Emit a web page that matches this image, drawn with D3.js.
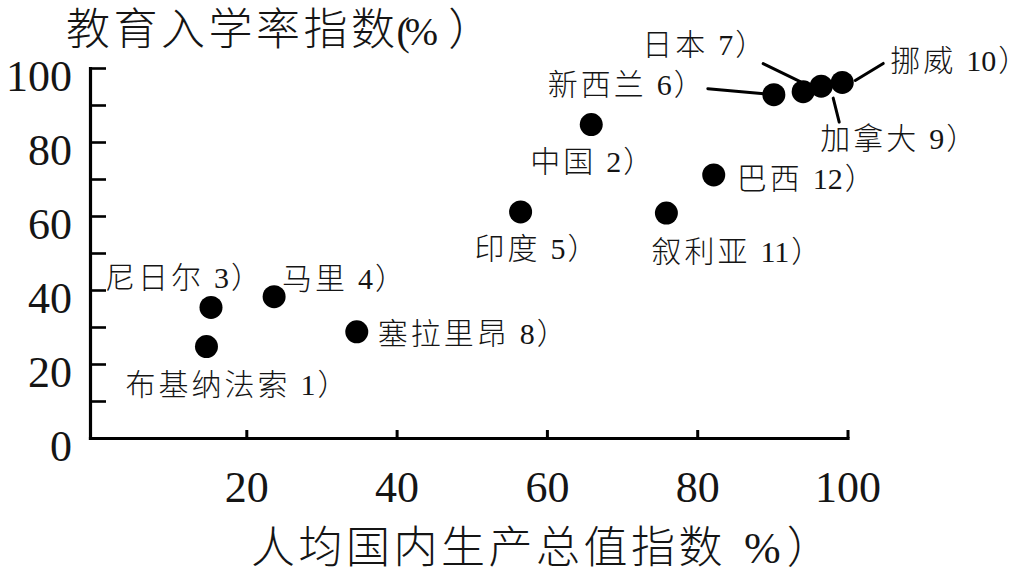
<!DOCTYPE html>
<html><head><meta charset="utf-8">
<script src="https://cdn.jsdelivr.net/npm/d3@7"></script>
<style>body{margin:0;background:#fff}svg{display:block}</style>
</head><body>
<svg id="chart" width="1030" height="579"></svg>
<script>
// ---- data ----
const countries = ["布基纳法索","中国","尼日尔","马里","印度","新西兰","日本","塞拉里昂","加拿大","挪威","叙利亚","巴西"];
const countryNumbers = [1,2,3,4,5,6,7,8,9,10,11,12];
const gdpIndex = [14.7,65.9,15.3,23.7,56.5,90.2,94.1,34.7,96.5,99.3,75.9,82.2];
const eduIndex = [24.7,84.7,35.3,38.2,61.1,92.8,93.6,28.7,95.1,96.1,60.8,71.1];
const xTickValues = [20,40,60,80,100];
const yTickValues = [0,10,20,30,40,50,60,70,80,90,100];
const yTickLabels = [0,20,40,60,80,100];
const yTitle = "教育入学率指数";
const xTitle = "人均国内生产总值指数";

// ---- layout (label offsets relative to the point, in px) ----
const labelOffsets = [[-81,48],[-61,47],[-106,-19],[8,-8],[-46,47],[-226,0],[-161,-37],[21,12],[-1,63],[48,-11],[-15,49],[23,14]];
const leaders = {5:[-66,-6,-10,-1], 6:[-40,-28,-3,-10], 8:[12,12,18,36], 9:[41,-19,13,-2]};

const svg = d3.select("#chart");
const x = d3.scaleLinear().domain([-0.8,100]).range([90,847.5]);
const y = d3.scaleLinear().domain([0,100]).range([438,68]);
const ink = "#151515";

// axes
const yAxis = d3.axisLeft(y).tickValues(yTickValues).tickSize(-16).tickSizeOuter(0).tickPadding(18)
  .tickFormat(d => yTickLabels.includes(d) ? d : "");
const gy = svg.append("g").attr("transform","translate(90,0)").call(yAxis);
gy.select(".domain").attr("stroke","#000").attr("stroke-width",3.2).attr("stroke-linecap","square");
gy.selectAll(".tick line").attr("stroke","#000").attr("stroke-width",2.6);
gy.selectAll(".tick text").attr("dy","0.5em").attr("fill",ink)
  .style("font-family","'Liberation Serif',serif").style("font-size","44px");

const xAxis = d3.axisBottom(x).tickValues(xTickValues).tickSize(-8).tickSizeOuter(0).tickPadding(33);
const gx = svg.append("g").attr("transform","translate(0,438)").call(xAxis);
gx.select(".domain").attr("stroke","#000").attr("stroke-width",3.2).attr("stroke-linecap","square");
gx.selectAll(".tick line").attr("stroke","#000").attr("stroke-width",3);
gx.selectAll(".tick text").attr("fill",ink)
  .style("font-family","'Liberation Serif',serif").style("font-size","44px");

// titles
const cjk = "'Noto Sans CJK SC','Liberation Serif',sans-serif";
const yt = svg.append("text").attr("x",66).attr("y",45).attr("fill",ink)
  .style("font-family",cjk).style("font-size","44px").style("font-weight",300);
yt.append("tspan").style("letter-spacing","3.5px").text(yTitle);
yt.append("tspan").attr("dx",-2).style("font-family","'Liberation Serif',serif").style("font-size","40px").text("(");
yt.append("tspan").attr("dx",-5).style("font-family","'Liberation Serif',serif").style("font-size","40px").text("%");
yt.append("tspan").attr("dx",10).text("）");

const xt = svg.append("text").attr("x",251).attr("y",563).attr("fill",ink)
  .style("font-family",cjk).style("font-size","44px").style("font-weight",300);
xt.append("tspan").style("letter-spacing","3.5px").text(xTitle);
xt.append("tspan").attr("dx",18).style("font-family","'Liberation Serif',serif").style("font-size","44px").text("%");
xt.append("tspan").attr("dx",6).text("）");

// data rows
const rows = countries.map((c,i) => ({name:c, num:countryNumbers[i], gx:gdpIndex[i], ey:eduIndex[i], off:labelOffsets[i], lead:leaders[i]}));

// leader lines
svg.append("g").selectAll("line").data(rows.filter(r => r.lead)).join("line")
  .attr("x1", r => x(r.gx)+r.lead[0]).attr("y1", r => y(r.ey)+r.lead[1])
  .attr("x2", r => x(r.gx)+r.lead[2]).attr("y2", r => y(r.ey)+r.lead[3])
  .attr("stroke","#000").attr("stroke-width",3).attr("stroke-linecap","round");

// points
svg.append("g").selectAll("circle").data(rows).join("circle")
  .attr("cx", r => x(r.gx)).attr("cy", r => y(r.ey)).attr("r",11.5).attr("fill","#000");

// labels
const lab = svg.append("g").selectAll("text").data(rows).join("text")
  .attr("x", r => x(r.gx)+r.off[0]).attr("y", r => y(r.ey)+r.off[1])
  .attr("fill",ink).style("font-family",cjk).style("font-size","30px").style("font-weight",300);
lab.append("tspan").style("letter-spacing","3px").text(r => r.name);
lab.append("tspan").attr("dx",10).style("font-family","'Liberation Serif',serif").style("font-size","30px").text(r => r.num);
lab.append("tspan").attr("dx",2).text("）");
</script>
</body></html>
